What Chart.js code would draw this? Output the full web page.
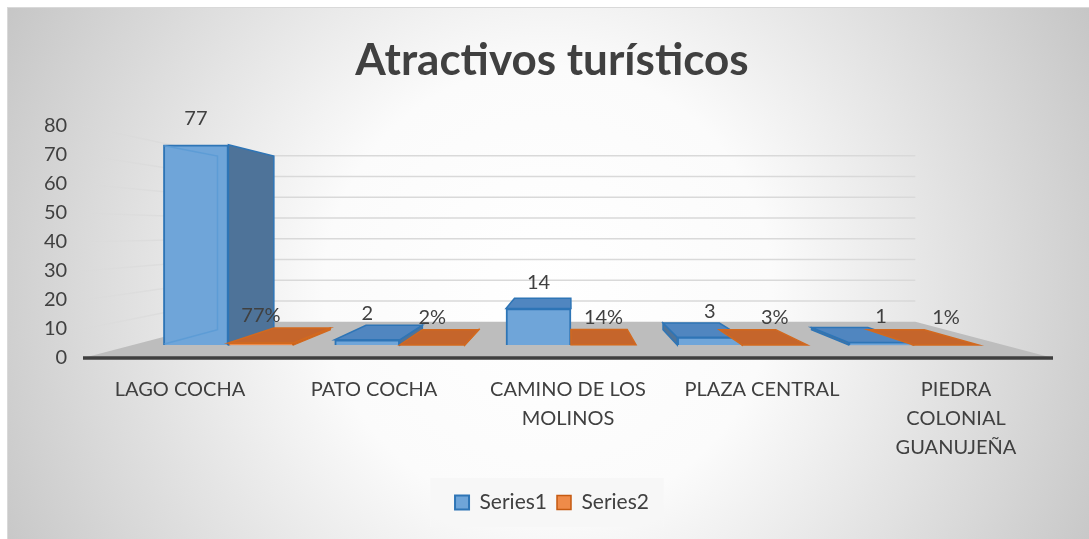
<!DOCTYPE html>
<html>
<head>
<meta charset="utf-8">
<script src="https://cdn.jsdelivr.net/npm/chart.js@4.4.1/dist/chart.umd.min.js"></script>
<style>
  html, body { margin: 0; padding: 0; background: #fff; }
</style>
</head>
<body>
<canvas id="chart" width="1089" height="539"></canvas>
<script>
const categories = [['LAGO COCHA'], ['PATO COCHA'], ['CAMINO DE LOS', 'MOLINOS'], ['PLAZA CENTRAL'], ['PIEDRA', 'COLONIAL', 'GUANUJEÑA']];
const series1 = [77, 2, 14, 3, 1];
const series2 = [0.77, 0.02, 0.14, 0.03, 0.01];
const yTicks = [0, 10, 20, 30, 40, 50, 60, 70, 80];

const BAR_DEPTH = 0.867;  // back face of bars, relative to front face
const WALL_DEPTH = 0.715; // back wall, relative to front plane
const textColor = '#404040';

function vanish(chart) {
  const a = chart.chartArea;
  return { x: (a.left + a.right) / 2 + 2, y: a.top + (a.bottom - a.top) * 0.45 };
}
function proj(p, v, k) {
  return { x: v.x + (p.x - v.x) * k, y: v.y + (p.y - v.y) * k };
}
function poly(ctx, pts, fill, stroke, lw) {
  ctx.beginPath();
  pts.forEach((p, i) => i ? ctx.lineTo(p.x, p.y) : ctx.moveTo(p.x, p.y));
  ctx.closePath();
  if (fill) { ctx.fillStyle = fill; ctx.fill(); }
  if (stroke) { ctx.strokeStyle = stroke; ctx.lineWidth = lw || 1.5; ctx.stroke(); }
}

const faces = [
  { side: '#4e7399', top: '#5086c0', edge: '#2e75b6', inner: 'rgba(91,155,213,0.9)' },
  { side: '#b35a22', top: '#c5652b', edge: '#d2691f', inner: 'rgba(237,125,49,0.9)' }
];

// background, frame, walls and floor
const scenePlugin = {
  id: 'scene',
  beforeDraw(chart) {
    const ctx = chart.ctx;
    ctx.save();
    ctx.fillStyle = '#ffffff';
    ctx.fillRect(0, 0, chart.width, chart.height);
    const g = ctx.createRadialGradient(548, 290, 0, 548, 290, 640);
    g.addColorStop(0, '#ffffff');
    g.addColorStop(0.35, '#fbfbfb');
    g.addColorStop(1, '#c2c2c2');
    ctx.fillStyle = g;
    ctx.fillRect(7, 7, chart.width - 7, chart.height - 7);
    ctx.strokeStyle = '#d9d9d9';
    ctx.lineWidth = 1;
    ctx.strokeRect(7.5, 7.5, chart.width - 7, chart.height - 7);

    // legend background
    const boxes = chart.legend.legendHitBoxes;
    if (boxes && boxes.length) {
      const l = boxes[0].left - 25, r = boxes[boxes.length - 1].left + boxes[boxes.length - 1].width + 15;
      const t = boxes[0].top - 14, b = boxes[0].top + boxes[0].height + 14;
      ctx.fillStyle = 'rgba(246,246,246,0.9)';
      ctx.fillRect(l, t, r - l, b - t);
    }
    ctx.restore();
  },
  beforeDatasetsDraw(chart) {
    const ctx = chart.ctx, a = chart.chartArea, ys = chart.scales.y;
    const v = vanish(chart);
    ctx.save();
    // gridlines: left wall + back wall
    yTicks.slice(1).forEach(t => {
      const yf = ys.getPixelForValue(t);
      const bl = proj({ x: a.left, y: yf }, v, WALL_DEPTH);
      const br = proj({ x: a.right, y: yf }, v, WALL_DEPTH);
      const lg = ctx.createLinearGradient(a.left, 0, bl.x, 0);
      lg.addColorStop(0, 'rgba(217,217,217,0.25)');
      lg.addColorStop(1, 'rgba(217,217,217,1)');
      ctx.strokeStyle = lg;
      ctx.lineWidth = 1.5;
      ctx.beginPath();
      ctx.moveTo(a.left, yf);
      ctx.lineTo(bl.x, bl.y);
      ctx.stroke();
      ctx.strokeStyle = '#d9d9d9';
      ctx.beginPath();
      ctx.moveTo(bl.x, bl.y);
      ctx.lineTo(br.x, bl.y);
      ctx.stroke();
    });
    // floor
    const y0 = ys.getPixelForValue(0);
    const fl = proj({ x: a.left, y: y0 }, v, WALL_DEPTH);
    const fr = proj({ x: a.right, y: y0 }, v, WALL_DEPTH);
    poly(ctx, [{ x: a.left, y: y0 }, { x: a.right, y: y0 }, fr, fl], '#bdbdbd');
    ctx.strokeStyle = '#3f3f3f';
    ctx.lineWidth = 3.5;
    ctx.beginPath();
    ctx.moveTo(a.left, y0);
    ctx.lineTo(a.right, y0);
    ctx.stroke();

    // side faces of the bars
    chart.data.datasets.forEach((ds, d) => {
      const f = faces[d];
      chart.getDatasetMeta(d).data.forEach(el => {
        const { x, y, base, width } = el.getProps(['x', 'y', 'base', 'width'], true);
        const x0 = x - width / 2, x1 = x + width / 2;
        const bt0 = proj({ x: x0, y: y }, v, BAR_DEPTH), bt1 = proj({ x: x1, y: y }, v, BAR_DEPTH);
        const bb0 = proj({ x: x0, y: base }, v, BAR_DEPTH), bb1 = proj({ x: x1, y: base }, v, BAR_DEPTH);
        if (x1 < v.x - 1) {
          poly(ctx, [{ x: x1, y: y }, bt1, bb1, { x: x1, y: base }], f.side, f.edge, 1.5);
        } else if (x0 > v.x + 1) {
          poly(ctx, [{ x: x0, y: y }, bt0, bb0, { x: x0, y: base }], f.side, f.edge, 1.5);
        }
      });
    });
    ctx.restore();
  },
  afterDatasetsDraw(chart) {
    const ctx = chart.ctx;
    const v = vanish(chart);
    ctx.save();
    chart.data.datasets.forEach((ds, d) => {
      const f = faces[d];
      chart.getDatasetMeta(d).data.forEach((el, i) => {
        const { x, y, base, width } = el.getProps(['x', 'y', 'base', 'width'], true);
        const x0 = x - width / 2, x1 = x + width / 2;
        const bt0 = proj({ x: x0, y: y }, v, BAR_DEPTH), bt1 = proj({ x: x1, y: y }, v, BAR_DEPTH);
        if (y > v.y) {
          poly(ctx, [{ x: x0, y: y }, { x: x1, y: y }, bt1, bt0], f.top, f.edge, 1.5);
        } else {
          // back edges seen through the front face
          ctx.strokeStyle = f.inner;
          ctx.lineWidth = 1.5;
          const bb0 = proj({ x: x0, y: base }, v, BAR_DEPTH);
          ctx.beginPath();
          ctx.moveTo(x0 + 1, y + 1);
          ctx.lineTo(bt0.x, bt0.y);
          ctx.lineTo(bt0.x, bb0.y);
          ctx.lineTo(x0 + 1, base - 1);
          ctx.stroke();
        }
        // value labels
        const txt = d === 0 ? String(series1[i]) : Math.round(series2[i] * 100) + '%';
        ctx.fillStyle = textColor;
        ctx.font = '20px Lato';
        ctx.textAlign = 'center';
        ctx.textBaseline = 'middle';
        ctx.fillText(txt, x, y - (d === 0 ? 26 : 27));
      });
    });
    ctx.restore();
  }
};

new Chart(document.getElementById('chart'), {
  type: 'bar',
  data: {
    labels: categories,
    datasets: [
      {
        label: 'Series1',
        data: series1.map((v, i) => ({ x: i, y: v })),
        backgroundColor: '#6fa5d9',
        borderColor: '#2e75b6',
        borderWidth: 2,
        xAxisID: 'xb',
        yAxisID: 'yb'
      },
      {
        label: 'Series2',
        data: series2.map((v, i) => ({ x: i, y: v })),
        backgroundColor: '#ef8b49',
        borderColor: '#c55a11',
        borderWidth: 1.5,
        xAxisID: 'xb',
        yAxisID: 'yb'
      }
    ]
  },
  options: {
    responsive: false,
    animation: false,
    devicePixelRatio: 1,
    barThickness: 65,
    layout: { padding: { left: 51, right: 36, top: 0, bottom: 16 } },
    scales: {
      x: {
        type: 'category',
        offset: true,
        grid: { display: false, drawTicks: false },
        border: { display: false },
        ticks: {
          color: textColor,
          font: { family: 'Lato', size: 20, lineHeight: 1.45 },
          padding: 17,
          maxRotation: 0,
          autoSkip: false
        },
        afterFit(scale) { scale.height = 124; }
      },
      y: {
        type: 'linear',
        min: 0,
        max: 80,
        grid: { display: false, drawTicks: false },
        border: { display: false },
        ticks: {
          stepSize: 10,
          color: textColor,
          font: { family: 'Lato', size: 20 },
          mirror: true,
          crossAlign: 'far',
          padding: -39
        },
        afterFit(scale) { scale.width = 32; }
      },
      xb: { type: 'linear', display: false, offset: false, min: -0.849, max: 4.814 },
      yb: { type: 'linear', display: false, min: -5.0, max: 84.2 }
    },
    plugins: {
      title: {
        display: true,
        text: 'Atractivos turísticos',
        color: textColor,
        font: { family: 'Lato', size: 44, weight: 'bold', lineHeight: 1.2 },
        padding: { top: 34, bottom: 39.2 }
      },
      legend: {
        position: 'bottom',
        labels: {
          color: textColor,
          font: { family: 'Lato', size: 21 },
          boxWidth: 14,
          boxHeight: 14,
          padding: 10
        }
      },
      tooltip: { enabled: false }
    }
  },
  plugins: [scenePlugin]
});
</script>
</body>
</html>
